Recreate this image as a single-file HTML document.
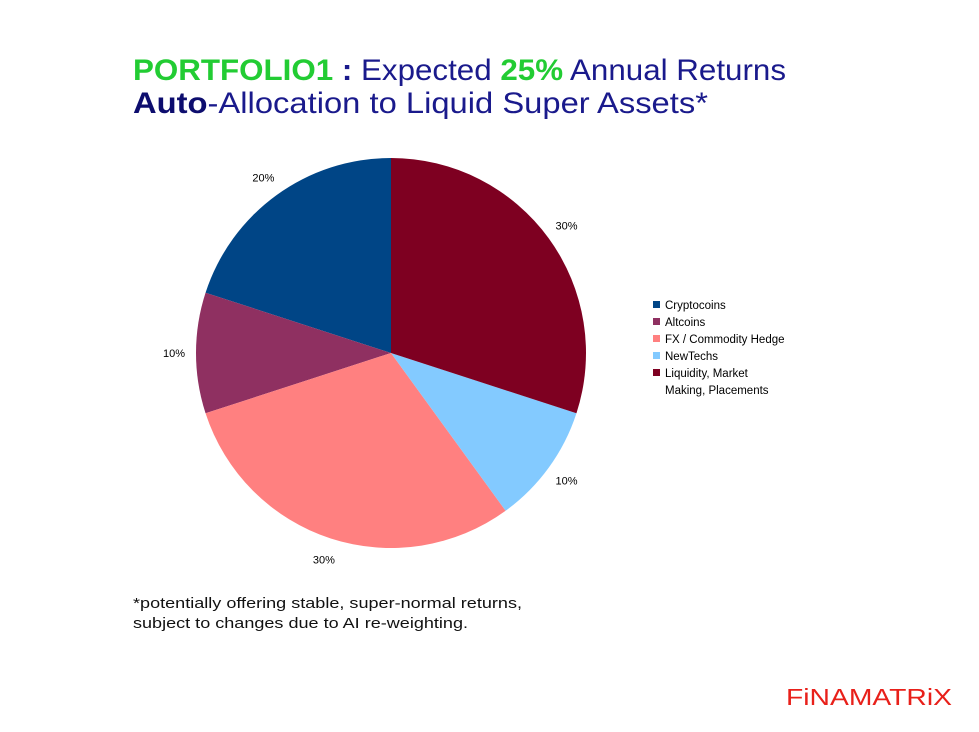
<!DOCTYPE html>
<html><head><meta charset="utf-8"><style>
body{margin:0;background:#fff;}
svg{display:block;font-family:"Liberation Sans",sans-serif;}
</style></head><body>
<svg width="979" height="732" viewBox="0 0 979 732">
<rect width="979" height="732" fill="#fff"/>
<text x="133" y="80" font-size="30" textLength="653" lengthAdjust="spacingAndGlyphs" fill="#1a1a8c"><tspan fill="#22cc33" font-weight="bold">PORTFOLIO1</tspan><tspan font-weight="bold"> : </tspan>Expected <tspan fill="#22cc33" font-weight="bold">25%</tspan> Annual Returns</text>
<text x="133" y="113" font-size="30" textLength="575" lengthAdjust="spacingAndGlyphs" fill="#1a1a8c"><tspan font-weight="bold" fill="#0d0d6e">Auto</tspan>-Allocation to Liquid Super Assets*</text>
<g id="pie"></g>
<g id="legend"></g>
<text x="133" y="608" font-size="15" textLength="389" lengthAdjust="spacingAndGlyphs" fill="#111">*potentially offering stable, super-normal returns,</text>
<text x="133" y="628" font-size="15" textLength="335" lengthAdjust="spacingAndGlyphs" fill="#111">subject to changes due to AI re-weighting.</text>
<text x="786" y="705" font-size="23" textLength="166" lengthAdjust="spacingAndGlyphs" fill="#e8201a">FiNAMATRiX</text>
</svg>
<script>
const categories=["Cryptocoins","Altcoins","FX / Commodity Hedge","NewTechs","Liquidity, Market|Making, Placements"];
const values=[20,10,30,10,30];
const labels=["20%","10%","30%","10%","30%"];
const colors=["#004586","#8f3061","#ff8080","#83caff","#7e0021"];
const NS="http://www.w3.org/2000/svg";
const cx=391,cy=353,r=195;
const total=values.reduce((a,b)=>a+b,0);
const pie=document.getElementById('pie');
let ang=0;
values.forEach((v,i)=>{
  const a0=ang,a1=ang+v/total*2*Math.PI;ang=a1;
  const p=a=>[cx-r*Math.sin(a),cy-r*Math.cos(a)];
  const [x0,y0]=p(a0),[x1,y1]=p(a1);
  const large=(a1-a0)>Math.PI?1:0;
  const path=document.createElementNS(NS,'path');
  path.setAttribute('d',`M${cx},${cy}L${x0},${y0}A${r},${r} 0 ${large} 0 ${x1},${y1}Z`);
  path.setAttribute('fill',colors[i]);
  
  
  pie.appendChild(path);
  const m=(a0+a1)/2,lr=r+22;
  const t=document.createElementNS(NS,'text');
  t.setAttribute('x',cx-lr*Math.sin(m));
  t.setAttribute('y',cy-lr*Math.cos(m)+4);
  t.setAttribute('font-size','11');
  t.setAttribute('text-anchor','middle');
  t.textContent=labels[i];
  
  
  pie.appendChild(t);
});
const lg=document.getElementById('legend');
categories.forEach((c,i)=>{
  const y=305+i*17;
  const rc=document.createElementNS(NS,'rect');
  rc.setAttribute('x',653);rc.setAttribute('y',y-4);rc.setAttribute('width',7);rc.setAttribute('height',7);
  rc.setAttribute('fill',colors[i]);
  
  
  lg.appendChild(rc);
  c.split('|').forEach((line,j)=>{
    const t=document.createElementNS(NS,'text');
    t.setAttribute('x',665);t.setAttribute('y',y+4+j*17);
    t.setAttribute('font-size','11.5');
    t.textContent=line;
    
    
    lg.appendChild(t);
  });
});
</script>
</body></html>
